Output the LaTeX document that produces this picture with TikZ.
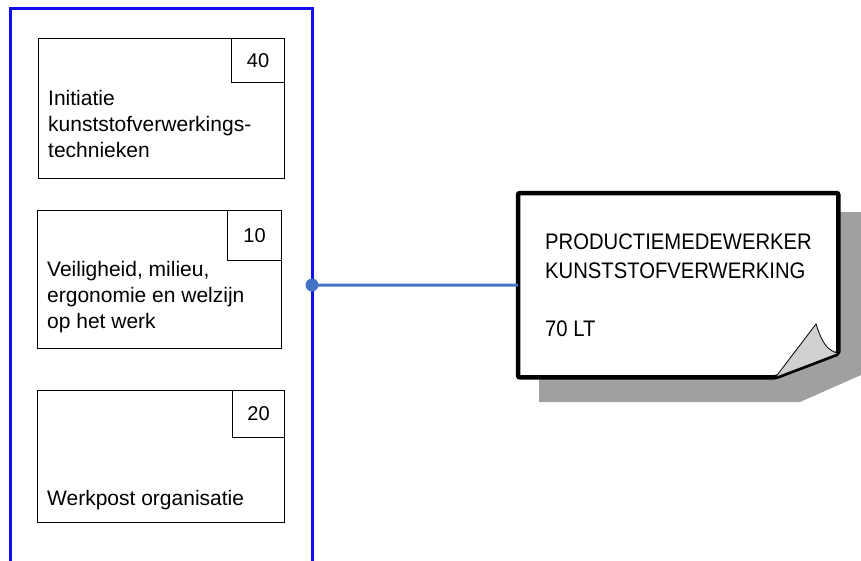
\documentclass[tikz,border=0pt]{standalone}
\usepackage{fontspec}
\setmainfont{Liberation Sans}
\newfontfamily\notefont[FakeStretch=0.9]{Liberation Sans}
\definecolor{frameblue}{HTML}{0F0FF2}
\definecolor{linkblue}{HTML}{4472C4}
\definecolor{shadowgrey}{HTML}{A0A0A0}
\definecolor{curlgrey}{HTML}{D0D0D0}

\begin{document}
\begin{tikzpicture}[x=1pt,y=-1pt]
\tikzset{module/.style={draw,line width=1.2pt,anchor=north west,inner sep=0pt},
  nr/.style={draw,line width=1.2pt,anchor=north east,inner sep=0pt,font=\fontsize{20}{24}\selectfont},
  modtext/.style={anchor=base west,align=left,inner sep=0pt,font=\fontsize{21}{26}\selectfont},
  jobtext/.style={anchor=base west,align=left,inner sep=0pt,font=\notefont\fontsize{22.5}{29}\selectfont},
  link/.style={draw=linkblue,line width=3pt},
  notedge/.style={draw=black,fill=white,line width=4.5pt,rounded corners=2pt},
  curl/.style={draw=black,fill=curlgrey,line width=0.8pt}}
\useasboundingbox (0,0) rectangle (861,560);
\draw[frameblue,line width=3pt] (10,566) -- (10,8) -- (312,8) -- (312,566);
\coordinate (hub) at (312,285);

\node[module,minimum width=246pt,minimum height=140pt] (m40) at (38,38) {};
\node[nr,minimum width=53pt,minimum height=44pt] (n40) at (m40.north east) {40};
\node[modtext] (t40) at (48,157) {Initiatie\\kunststofverwerkings-\\technieken};

\node[module,minimum width=244pt,minimum height=138pt] (m10) at (37,210) {};
\node[nr,minimum width=54pt,minimum height=50pt] (n10) at (m10.north east) {10};
\node[modtext] (t10) at (47,328) {Veiligheid, milieu,\\ergonomie en welzijn\\op het werk};

\node[module,minimum width=247pt,minimum height=132pt] (m20) at (37,390) {};
\node[nr,minimum width=52pt,minimum height=47pt] (n20) at (m20.north east) {20};
\node[modtext] (t20) at (47,505) {Werkpost organisatie};

\fill[shadowgrey] (539,212) -- (861,212) -- (861,375) -- (800,402) -- (539,402) -- cycle;
\node[anchor=north west,minimum width=320pt,minimum height=184pt,inner sep=0pt] (job) at (518,193) {};
\draw[notedge] (job.north west) -- (job.north east) -- ([yshift=24pt]job.south east)
  -- ([xshift=-63pt]job.south east) -- (job.south west) -- cycle;
\coordinate (tip) at (816,324);
\filldraw[curl] ([xshift=-63pt]job.south east) -- (tip) .. controls (822,342) and (826,350) .. ([yshift=24pt]job.south east) -- cycle;
\node[jobtext] (jt) at (545,336) {PRODUCTIEMEDEWERKER\\KUNSTSTOFVERWERKING\\[29pt]70 LT};

\draw[link] (hub) -- (job.west);
\fill[linkblue] (hub) circle (6.5pt);
\end{tikzpicture}
\end{document}
